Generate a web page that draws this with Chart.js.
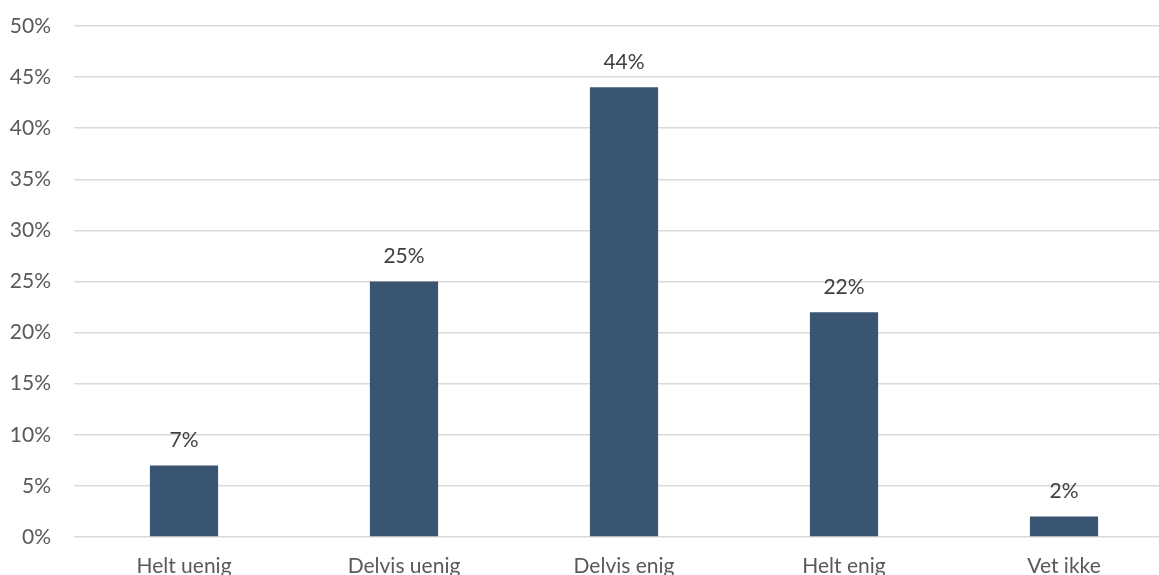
<!DOCTYPE html>
<html>
<head>
<meta charset="utf-8">
<script src="https://cdn.jsdelivr.net/npm/chart.js@4"></script>
<style>
  html, body { margin: 0; padding: 0; overflow: hidden; background: #fff; }
  #answers { display: block; }
</style>
</head>
<body>
<canvas id="answers" width="1174" height="600"></canvas>
<script>
// Answer categories and share of respondents (%)
const categories = ['Helt uenig', 'Delvis uenig', 'Delvis enig', 'Helt enig', 'Vet ikke'];
const shares = [7, 25, 44, 22, 2];
const yTicks = [0, 5, 10, 15, 20, 25, 30, 35, 40, 45, 50];

const textColor = '#595959';
const fontFamily = 'Lato, "Open Sans", sans-serif';

// Print the value above each bar
const valueLabels = {
    id: 'valueLabels',
    afterDatasetsDraw(chart) {
        const ctx = chart.ctx;
        const meta = chart.getDatasetMeta(0);
        ctx.save();
        ctx.font = '21px ' + fontFamily;
        ctx.fillStyle = '#404040';
        ctx.textAlign = 'center';
        ctx.textBaseline = 'middle';
        meta.data.forEach((bar, i) => {
            ctx.fillText(shares[i] + '%', bar.x, bar.y - 25);
        });
        ctx.restore();
    }
};

const ctx = document.getElementById('answers').getContext('2d');
new Chart(ctx, {
    type: 'bar',
    data: {
        labels: categories,
        datasets: [{
            data: shares,
            backgroundColor: '#3a5572',
            borderWidth: 0,
            categoryPercentage: 1,
            barPercentage: 0.31
        }]
    },
    options: {
        responsive: false,
        animation: false,
        layout: { padding: { top: 26, right: 0, left: 0, bottom: 0 } },
        plugins: {
            legend: { display: false },
            tooltip: { enabled: false }
        },
        scales: {
            x: {
                grid: { display: false, drawTicks: false },
                border: { display: false },
                ticks: {
                    color: textColor,
                    font: { family: fontFamily, size: 21 },
                    padding: 17,
                    maxRotation: 0
                },
                afterFit(scale) {
                    scale.height = 63;
                    scale.paddingLeft = 0;
                    scale.paddingRight = 0;
                }
            },
            y: {
                min: 0,
                max: 50,
                afterBuildTicks(scale) {
                    scale.ticks = yTicks.map(v => ({ value: v }));
                },
                grid: { color: '#d9d9d9', lineWidth: 1.5, drawTicks: false },
                border: { display: false },
                ticks: {
                    color: textColor,
                    font: { family: fontFamily, size: 21 },
                    padding: 23,
                    callback: v => v + '%'
                },
                afterFit(scale) {
                    scale.width = 74;
                    scale.paddingTop = 0;
                    scale.paddingBottom = 0;
                }
            }
        }
    },
    plugins: [valueLabels]
});
</script>
</body>
</html>
